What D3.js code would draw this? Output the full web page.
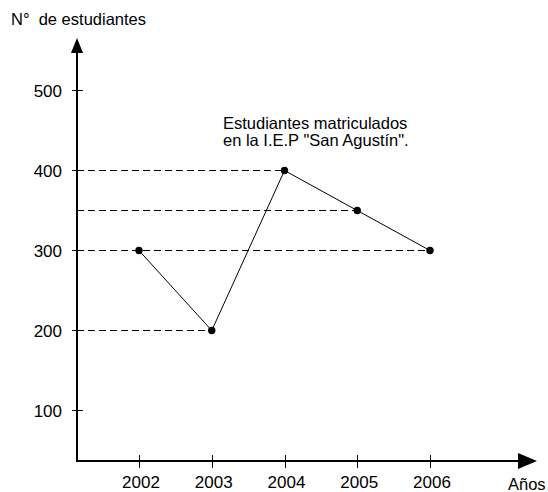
<!DOCTYPE html>
<html>
<head>
<meta charset="UTF-8">
<title>Estudiantes matriculados</title>
<style>
  body { margin: 0; background: #fff; }
  svg { display: block; font-family: "Liberation Sans", Arial, sans-serif; }
</style>
</head>
<body>
<svg id="chart"></svg>
<script src="https://d3js.org/d3.v7.min.js"></script>
<script>
// data
const years = [2002, 2003, 2004, 2005, 2006];
const students = [300, 200, 400, 350, 300];
const yTicks = [100, 200, 300, 400, 500];
const yTitle = "N°  de estudiantes";
const xTitle = "Años";
const note = ["Estudiantes matriculados", "en la I.E.P \"San Agustín\"."];

const width = 548, height = 492;
const svg = d3.select("#chart").attr("width", width).attr("height", height);

const axisX = 77, axisY = 461;

let x = d3.scaleLinear().domain([2002, 2006]).range([139, 430]);
let y = d3.scaleLinear().domain([0, 500]).range([490.5, 90.5]);

let pts = years.map((d, i) => ({ year: d, val: students[i] }));

// dashed guides from the y axis to each point (longest per value)
let guides = d3.rollups(pts, v => d3.max(v, d => d.year), d => d.val);
svg.append("g")
  .selectAll("line")
  .data(guides)
  .enter()
  .append("line")
  .attr("x1", axisX)
  .attr("x2", d => x(d[1]))
  .attr("y1", d => y(d[0]))
  .attr("y2", d => y(d[0]))
  .attr("stroke", "#000")
  .attr("stroke-width", 1)
  .attr("shape-rendering", "crispEdges")
  .attr("stroke-dasharray", "7,4");

// axes
svg.append("line")
  .attr("x1", axisX).attr("x2", axisX)
  .attr("y1", 50).attr("y2", axisY + 1)
  .attr("stroke", "#000").attr("stroke-width", 2)
  .attr("shape-rendering", "crispEdges");
svg.append("line")
  .attr("x1", axisX).attr("x2", 520)
  .attr("y1", axisY).attr("y2", axisY)
  .attr("stroke", "#000").attr("stroke-width", 2)
  .attr("shape-rendering", "crispEdges");

// arrow heads
svg.append("path")
  .attr("d", `M${axisX},38 L${axisX - 6},53 L${axisX + 6},53 Z`)
  .attr("fill", "#000");
svg.append("path")
  .attr("d", `M537,${axisY} L518,${axisY - 8} L518,${axisY + 8} Z`)
  .attr("fill", "#000");

// y ticks
let yt = svg.append("g");
yt.selectAll("line")
  .data(yTicks)
  .enter()
  .append("line")
  .attr("x1", axisX - 5).attr("x2", axisX + 6)
  .attr("y1", d => y(d)).attr("y2", d => y(d))
  .attr("stroke", "#000").attr("stroke-width", 1)
  .attr("shape-rendering", "crispEdges");
yt.selectAll("text")
  .data(yTicks)
  .enter()
  .append("text")
  .attr("x", 62)
  .attr("y", d => y(d))
  .attr("dy", "0.36em")
  .attr("text-anchor", "end")
  .attr("font-size", "17px")
  .text(d => d);

// x ticks
let xt = svg.append("g");
xt.selectAll("line")
  .data(years)
  .enter()
  .append("line")
  .attr("x1", d => Math.round(x(d)) + 0.5).attr("x2", d => Math.round(x(d)) + 0.5)
  .attr("y1", axisY - 6).attr("y2", axisY + 7)
  .attr("stroke", "#000").attr("stroke-width", 1)
  .attr("shape-rendering", "crispEdges");
xt.selectAll("text")
  .data(years)
  .enter()
  .append("text")
  .attr("x", d => x(d) + 2)
  .attr("y", 488)
  .attr("text-anchor", "middle")
  .attr("font-size", "17px")
  .text(d => d);

// series line + dots
svg.append("path")
  .datum(pts)
  .attr("fill", "none")
  .attr("stroke", "#000")
  .attr("stroke-width", 1)
  .attr("d", d3.line().x(d => x(d.year)).y(d => y(d.val)));

svg.append("g")
  .selectAll("circle")
  .data(pts)
  .enter()
  .append("circle")
  .attr("cx", d => x(d.year))
  .attr("cy", d => y(d.val))
  .attr("r", 3.7)
  .attr("fill", "#000");

// titles
svg.append("text")
  .attr("x", 11).attr("y", 25)
  .attr("font-size", "16.5px")
  .style("white-space", "pre")
  .text(yTitle);
svg.append("text")
  .attr("x", 508).attr("y", 490)
  .attr("font-size", "16.5px")
  .text(xTitle);

svg.append("g")
  .selectAll("text")
  .data(note)
  .enter()
  .append("text")
  .attr("x", 223)
  .attr("y", (d, i) => 129 + i * 17)
  .attr("font-size", "16.5px")
  .text(d => d);
</script>
</body>
</html>
